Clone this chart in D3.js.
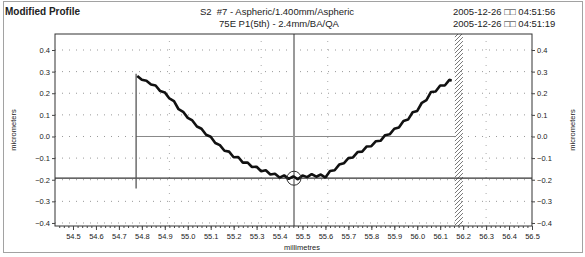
<!DOCTYPE html>
<html>
<head>
<meta charset="utf-8">
<script src="https://cdn.jsdelivr.net/npm/d3@7"></script>
<style>
  body { margin: 0; background: #fff; }
  text { font-family: "Liberation Sans", Arial, sans-serif; fill: #222; white-space: pre; }
</style>
</head>
<body>
<div id="chart-area"></div>
<script>

let width = 585,
    height = 257;

// data
let xTicks = [54.5, 54.6, 54.7, 54.8, 54.9, 55.0, 55.1, 55.2, 55.3, 55.4, 55.5,
              55.6, 55.7, 55.8, 55.9, 56.0, 56.1, 56.2, 56.3, 56.4, 56.5];
let yTicks = [0.4, 0.3, 0.2, 0.1, 0.0, -0.1, -0.2, -0.3, -0.4];
let xGrid = [54.92, 55.32, 55.61, 56.30];

let profileX = [54.78, 54.80, 54.82, 54.84, 54.86, 54.88, 54.90, 54.92, 54.94, 54.96,
                54.98, 55.00, 55.02, 55.04, 55.06, 55.08, 55.10, 55.12, 55.14, 55.16,
                55.18, 55.20, 55.22, 55.24, 55.26, 55.28, 55.30, 55.32, 55.34, 55.36,
                55.38, 55.40, 55.42, 55.44, 55.46, 55.48, 55.50, 55.52, 55.54, 55.56,
                55.58, 55.60, 55.62, 55.64, 55.66, 55.68, 55.70, 55.72, 55.74, 55.76,
                55.78, 55.80, 55.82, 55.84, 55.86, 55.88, 55.90, 55.92, 55.94, 55.96,
                55.98, 56.00, 56.02, 56.04, 56.06, 56.08, 56.10, 56.12, 56.14, 56.15];
let profileY = [0.280, 0.262, 0.258, 0.240, 0.236, 0.210, 0.204, 0.176, 0.164, 0.126,
                0.114, 0.086, 0.074, 0.046, 0.036, 0.008, -0.001, -0.030, -0.040, -0.066,
                -0.070, -0.096, -0.095, -0.121, -0.120, -0.141, -0.140, -0.161, -0.156, -0.176,
                -0.172, -0.190, -0.180, -0.196, -0.184, -0.198, -0.180, -0.188, -0.174, -0.186,
                -0.176, -0.190, -0.160, -0.156, -0.130, -0.124, -0.100, -0.097, -0.072, -0.070,
                -0.046, -0.045, -0.022, -0.020, 0.006, 0.010, 0.036, 0.042, 0.072, 0.078,
                0.112, 0.118, 0.156, 0.168, 0.206, 0.208, 0.236, 0.236, 0.262, 0.258];

let startMarker = {x: 54.775, top: 0.29, bottom: -0.24};
let cursor = {x: 55.463, y: -0.193};
let hatchBand = [56.164, 56.199];
let zeroSpan = [54.775, 56.164];

let svg = d3.select("#chart-area").append("svg")
    .attr("width", width)
    .attr("height", height);

let x = d3.scaleLinear().domain([54.4216, 56.5]).range([55, 532]);
let y = d3.scaleLinear().domain([-0.414, 0.474]).range([226, 34]);

// hatch pattern
svg.append("defs").append("pattern")
    .attr("id", "hatch")
    .attr("patternUnits", "userSpaceOnUse")
    .attr("width", 4).attr("height", 4)
  .append("path")
    .attr("d", "M-1,1 l2,-2 M0,4 l4,-4 M3,5 l2,-2")
    .attr("stroke", "#555")
    .attr("stroke-width", 0.8);

// outer frame
svg.append("rect")
    .attr("x", 3.5).attr("y", 1.5)
    .attr("width", 579).attr("height", 251)
    .attr("fill", "none")
    .attr("stroke", "#444")
    .attr("stroke-dasharray", "1,1");

// titles
svg.append("text").attr("x", 5).attr("y", 15)
    .attr("font-size", "10px").attr("font-weight", "bold")
    .text("Modified Profile");
svg.append("text").attr("x", 277).attr("y", 15)
    .attr("font-size", "9.5px").attr("text-anchor", "middle")
    .text("S2  #7 - Aspheric/1.400mm/Aspheric");
svg.append("text").attr("x", 279).attr("y", 27)
    .attr("font-size", "9.5px").attr("text-anchor", "middle")
    .text("75E P1(5th) - 2.4mm/BA/QA");
svg.append("text").attr("x", 453).attr("y", 15)
    .attr("font-size", "9.5px")
    .text("2005-12-26 □□ 04:51:56");
svg.append("text").attr("x", 453).attr("y", 27)
    .attr("font-size", "9.5px")
    .text("2005-12-26 □□ 04:51:19");

// grid
svg.selectAll(".hgrid")
    .data(yTicks)
    .enter().append("line")
    .attr("class", "hgrid")
    .attr("x1", x.range()[0]).attr("x2", x.range()[1])
    .attr("y1", d => y(d)).attr("y2", d => y(d))
    .attr("stroke", "#999")
    .attr("stroke-dasharray", "1,6");

svg.selectAll(".vgrid")
    .data(xGrid)
    .enter().append("line")
    .attr("class", "vgrid")
    .attr("x1", d => x(d)).attr("x2", d => x(d))
    .attr("y1", y.range()[0]).attr("y2", y.range()[1])
    .attr("stroke", "#aaa")
    .attr("stroke-dasharray", "1,7");

// zero line where data exists
svg.append("line")
    .attr("x1", x(zeroSpan[0])).attr("x2", x(zeroSpan[1]))
    .attr("y1", y(0)).attr("y2", y(0))
    .attr("stroke", "#888").attr("stroke-width", 1);

// hatched band
svg.append("rect")
    .attr("x", x(hatchBand[0]))
    .attr("y", y.range()[1])
    .attr("width", x(hatchBand[1]) - x(hatchBand[0]))
    .attr("height", y.range()[0] - y.range()[1])
    .attr("fill", "url(#hatch)");

// cursor lines
svg.append("line")
    .attr("x1", x.range()[0]).attr("x2", x.range()[1])
    .attr("y1", y(cursor.y)).attr("y2", y(cursor.y))
    .attr("stroke", "#333").attr("stroke-width", 1.2);
svg.append("line")
    .attr("x1", x(cursor.x)).attr("x2", x(cursor.x))
    .attr("y1", y.range()[0]).attr("y2", y.range()[1])
    .attr("stroke", "#999").attr("stroke-width", 2);

// start marker
svg.append("line")
    .attr("x1", x(startMarker.x)).attr("x2", x(startMarker.x))
    .attr("y1", y(startMarker.top)).attr("y2", y(startMarker.bottom))
    .attr("stroke", "#555").attr("stroke-width", 1.3);

// profile
let profile = profileX.map((d, i) => ({x: d, y: profileY[i]}));
svg.append("path")
    .datum(profile)
    .attr("fill", "none")
    .attr("stroke", "#111")
    .attr("stroke-width", 2.6)
    .attr("stroke-linejoin", "bevel")
    .attr("d", d3.line().x(d => x(d.x)).y(d => y(d.y)));

// cursor circle
svg.append("circle")
    .attr("cx", x(cursor.x)).attr("cy", y(cursor.y))
    .attr("r", 7)
    .attr("fill", "none")
    .attr("stroke", "#333").attr("stroke-width", 1);

// plot border
svg.append("rect")
    .attr("x", x.range()[0]).attr("y", y.range()[1])
    .attr("width", x.range()[1] - x.range()[0])
    .attr("height", y.range()[0] - y.range()[1])
    .attr("fill", "none")
    .attr("stroke", "#333");

// axes
let fmt = d3.format(".1f");
svg.append("g")
    .attr("transform", "translate(0," + y.range()[0] + ")")
    .call(d3.axisBottom(x).tickValues(xTicks).tickFormat(fmt).tickSize(4).tickPadding(4));
svg.append("g")
    .attr("transform", "translate(0," + y.range()[0] + ")")
    .call(d3.axisBottom(x).tickValues(d3.range(54.44, 56.5, 0.02)).tickFormat("").tickSize(2));

svg.append("g")
    .attr("transform", "translate(" + x.range()[0] + ",0)")
    .call(d3.axisLeft(y).tickValues(yTicks).tickFormat(fmt).tickSize(3).tickPadding(2));
svg.append("g")
    .attr("transform", "translate(" + x.range()[1] + ",0)")
    .call(d3.axisRight(y).tickValues(yTicks).tickFormat(fmt).tickSize(3).tickPadding(2));

svg.selectAll(".domain").remove();
svg.selectAll(".tick line").attr("stroke", "#444");
svg.selectAll(".tick text")
    .attr("font-size", "7.5px")
    .attr("fill", "#333")
    .style("font-family", "'Liberation Sans', Arial, sans-serif");

// axis titles
svg.append("text")
    .attr("x", 302).attr("y", 250)
    .attr("font-size", "7.5px").attr("text-anchor", "middle")
    .text("millimetres");
svg.append("text")
    .attr("transform", "translate(16,130) rotate(-90)")
    .attr("font-size", "7.5px").attr("text-anchor", "middle")
    .text("micrometers");
svg.append("text")
    .attr("transform", "translate(575,130) rotate(-90)")
    .attr("font-size", "7.5px").attr("text-anchor", "middle")
    .text("micrometers");

</script>
</body>
</html>
